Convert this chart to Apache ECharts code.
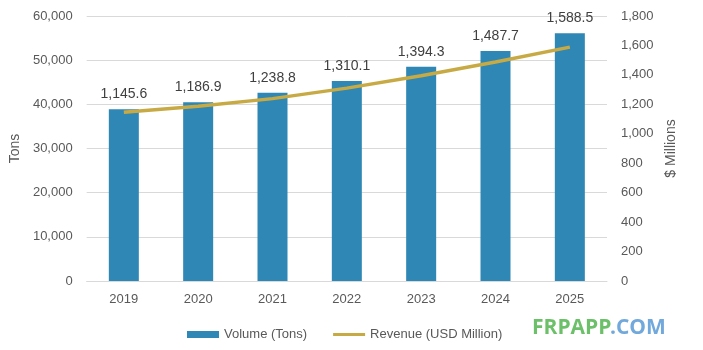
<!DOCTYPE html>
<html>
<head>
<meta charset="utf-8">
<script src="https://cdn.jsdelivr.net/npm/echarts@6/dist/echarts.min.js"></script>
<style>
    html, body { margin: 0; padding: 0; background: #fff; }
    #chart { width: 703px; height: 350px; }
</style>
</head>
<body>
<div id="chart"></div>
<script>
    // data
    const years = ['2019', '2020', '2021', '2022', '2023', '2024', '2025'];
    const volume = [38900, 40500, 42600, 45300, 48500, 52100, 56100];
    const revenue = [1145.6, 1186.9, 1238.8, 1310.1, 1394.3, 1487.7, 1588.5];

    const txt = '#595959';
    const font = 'Liberation Sans';
    const gold = '#C8AA45';

    let chart = echarts.init(document.getElementById('chart'));
    let option = {
        animation: false,
        textStyle: { fontFamily: font },
        grid: { left: 84, right: 96, top: 16, bottom: 69 },
        legend: {
            bottom: 4,
            left: 182,
            itemWidth: 32,
            itemHeight: 7,
            itemGap: 26,
            textStyle: { color: txt, fontSize: 13, fontFamily: font },
            data: [
                { name: 'Volume (Tons)', icon: 'rect' },
                { name: 'Revenue (USD Million)', icon: 'path://M0,0h32v3h-32z' }
            ]
        },
        xAxis: {
            type: 'category',
            data: years,
            axisTick: { show: false },
            axisLine: { lineStyle: { color: '#d9d9d9' } },
            axisLabel: { color: txt, fontSize: 13, margin: 12 }
        },
        yAxis: [
            {
                type: 'value',
                min: 0, max: 60000, interval: 10000,
                name: 'Tons',
                nameLocation: 'middle',
                nameGap: 63,
                nameTextStyle: { color: txt, fontSize: 14 },
                axisLabel: {
                    color: txt, fontSize: 13, margin: 14,
                    formatter: v => v.toLocaleString('en-US')
                },
                splitLine: { lineStyle: { color: '#d9d9d9' } }
            },
            {
                type: 'value',
                min: 0, max: 1800, interval: 200,
                name: '$ Millions',
                nameLocation: 'middle',
                nameGap: 55,
                nameTextStyle: { color: txt, fontSize: 14 },
                axisLabel: {
                    color: txt, fontSize: 13, margin: 14,
                    formatter: v => v.toLocaleString('en-US')
                },
                splitLine: { show: false }
            }
        ],
        series: [
            {
                name: 'Volume (Tons)',
                type: 'bar',
                data: volume,
                barWidth: 30,
                itemStyle: { color: '#2E87B4' },
                label: {
                    show: true,
                    position: 'top',
                    distance: 8,
                    color: '#404040',
                    fontSize: 14,
                    formatter: p => revenue[p.dataIndex].toLocaleString('en-US', { minimumFractionDigits: 1 })
                }
            },
            {
                name: 'Revenue (USD Million)',
                type: 'line',
                yAxisIndex: 1,
                data: revenue,
                symbol: 'none',
                lineStyle: { color: gold, width: 3.5 },
                itemStyle: { color: gold }
            }
        ],
        graphic: [
            {
                type: 'text',
                left: 532,
                top: 318,
                style: {
                    text: 'FRPAPP',
                    fill: '#6CC06A',
                    font: 'bold 21px "Open Sans"'
                }
            },
            {
                type: 'text',
                left: 610,
                top: 318,
                style: {
                    text: '.COM',
                    fill: '#72A9DC',
                    font: 'bold 21px "Open Sans"'
                }
            }
        ]
    };
    chart.setOption(option);
</script>
</body>
</html>
